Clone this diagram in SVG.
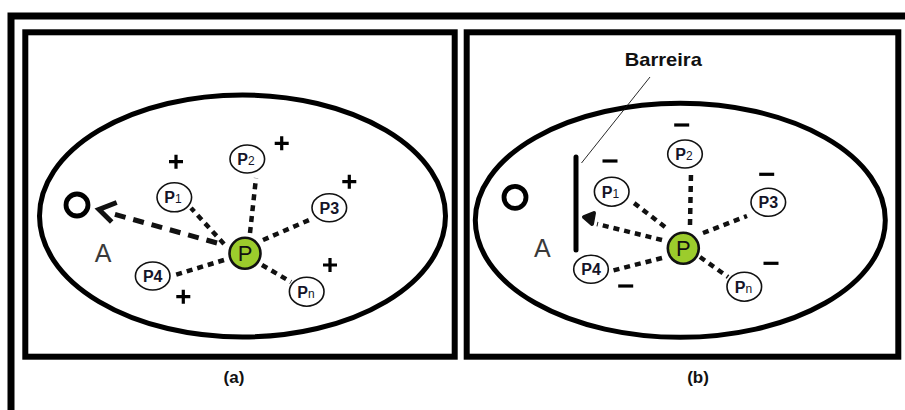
<svg xmlns="http://www.w3.org/2000/svg" width="905" height="410" viewBox="0 0 905 410">
<style>
.frame{fill:none;stroke:#000;stroke-width:7}
.panel{fill:#fff;stroke:#000;stroke-width:6}
.cell{fill:none;stroke:#000;stroke-width:5}
.pc{fill:#fff;stroke:#111;stroke-width:1.6}
.pl{font-family:"Liberation Sans",Arial,sans-serif;font-size:16px;font-weight:bold;fill:#141428;text-anchor:middle}
.sub{font-size:12px;font-weight:normal}
.pg{fill:#9ccc2c;stroke:#111;stroke-width:2.6}
.big{font-family:"Liberation Sans",Arial,sans-serif;font-size:22px;fill:#111;text-anchor:middle}
.A{font-family:"Liberation Sans",Arial,sans-serif;font-size:25px;fill:#3a3a3a;text-anchor:middle}
.cap{font-family:"Liberation Sans",Arial,sans-serif;font-size:17px;font-weight:bold;fill:#111;text-anchor:middle}
.sign{stroke:#000;stroke-width:3.2;fill:none}
.dot{stroke:#111;stroke-width:4.5;stroke-dasharray:6 5;fill:none}
.dash{stroke:#111;stroke-width:5;stroke-dasharray:11 8;fill:none}
.ring{fill:none;stroke:#000;stroke-width:4.8}
</style>
<path class="frame" d="M11 410 V16 H905"/>
<g id="panel-a">
<rect class="panel" x="25.3" y="32.3" width="429.4" height="324.4"/>
<ellipse class="cell" cx="242.5" cy="216" rx="203" ry="121"/>
<circle class="ring" cx="77" cy="205" r="11"/>
<text class="A" x="103" y="262">A</text>
<text class="cap" x="234" y="383">(a)</text>
</g>
<g id="connectors-a">
<line class="dash" x1="217" y1="243" x2="110" y2="213"/>
<path d="M116.7 202.5 L99 209.5 L111.7 222" stroke="#111" stroke-width="5" fill="none"/>
<line class="dot" x1="224" y1="244" x2="191" y2="208"/>
<line class="dot" x1="250" y1="233" x2="256" y2="178"/>
<line class="dot" x1="263" y1="240" x2="309" y2="220"/>
<line class="dot" x1="224" y1="260" x2="172" y2="276"/>
<line class="dot" x1="262" y1="265" x2="291" y2="282"/>
</g>
<g id="a-P"><circle class="pg" cx="245" cy="253.3" r="15.5"/><text class="big" x="245" y="261">P</text></g>
<g id="a-P1"><ellipse class="pc" cx="174.3" cy="197.3" rx="17.3" ry="14.5"/><text class="pl" x="173" y="203">P<tspan class="sub">1</tspan></text></g>
<g id="a-P2"><ellipse class="pc" cx="247.3" cy="159" rx="17.3" ry="14"/><text class="pl" x="246" y="165">P<tspan class="sub">2</tspan></text></g>
<g id="a-P3"><ellipse class="pc" cx="329.3" cy="207.7" rx="17.3" ry="14"/><text class="pl" x="329.3" y="213.5">P3</text></g>
<g id="a-P4"><ellipse class="pc" cx="152.7" cy="276" rx="17.3" ry="14"/><text class="pl" x="152.7" y="282">P4</text></g>
<g id="a-Pn"><ellipse class="pc" cx="306.7" cy="291.7" rx="17.3" ry="14.5"/><text class="pl" x="306" y="297.5">P<tspan class="sub">n</tspan></text></g>
<g id="a-signs">
<path class="sign" d="M169 161.7 H183 M176 154.7 V168.7"/>
<path class="sign" d="M274.7 143.3 H288.7 M281.7 136.3 V150.3"/>
<path class="sign" d="M342.3 181.7 H356.3 M349.3 174.7 V188.7"/>
<path class="sign" d="M323 265 H337 M330 258 V272"/>
<path class="sign" d="M176.3 296.7 H190.3 M183.3 289.7 V303.7"/>
</g>
<g id="panel-b">
<rect class="panel" x="466.7" y="32.3" width="431.6" height="324.4"/>
<ellipse class="cell" cx="680.3" cy="220.3" rx="205" ry="117"/>
<circle class="ring" cx="515" cy="197.3" r="11"/>
<text class="A" x="542.3" y="257">A</text>
<text class="cap" x="698" y="383">(b)</text>
</g>
<g id="barrier">
<line x1="576" y1="157" x2="576" y2="250" stroke="#000" stroke-width="5" stroke-linecap="round"/>
<line x1="581.5" y1="163" x2="650" y2="77" stroke="#111" stroke-width="0.9"/>
<text x="663.3" y="66" font-family="Liberation Sans,Arial,sans-serif" font-size="19" font-weight="bold" fill="#111" text-anchor="middle" textLength="77" lengthAdjust="spacingAndGlyphs">Barreira</text>
</g>
<g id="connectors-b">
<line class="dot" x1="662" y1="240" x2="597" y2="224"/>
<path d="M594 213 L584 217 L592 224 Z" stroke="#111" stroke-width="4" fill="#111" stroke-linejoin="round"/>
<line class="dot" x1="665" y1="227" x2="634" y2="203"/>
<line class="dot" x1="690" y1="225" x2="691" y2="173"/>
<line class="dot" x1="703" y1="233" x2="747" y2="216"/>
<line class="dot" x1="662" y1="258" x2="611" y2="271"/>
<line class="dot" x1="700" y1="257" x2="728" y2="277"/>
</g>
<g id="b-P"><circle class="pg" cx="683.3" cy="248.3" r="15.5"/><text class="big" x="683.3" y="256">P</text></g>
<g id="b-P1"><ellipse class="pc" cx="611.7" cy="191.7" rx="17.3" ry="14.5"/><text class="pl" x="610.5" y="197.5">P<tspan class="sub">1</tspan></text></g>
<g id="b-P2"><ellipse class="pc" cx="685" cy="154" rx="17.3" ry="14"/><text class="pl" x="684" y="160">P<tspan class="sub">2</tspan></text></g>
<g id="b-P3"><ellipse class="pc" cx="768.3" cy="202.3" rx="17.3" ry="14"/><text class="pl" x="768.3" y="208">P3</text></g>
<g id="b-P4"><ellipse class="pc" cx="591" cy="269.3" rx="17.3" ry="14"/><text class="pl" x="591" y="275.3">P4</text></g>
<g id="b-Pn"><ellipse class="pc" cx="744.3" cy="286.7" rx="17.3" ry="14.5"/><text class="pl" x="743.5" y="292.5">P<tspan class="sub">n</tspan></text></g>
<g id="b-signs">
<path class="sign" d="M602.5 161 H617.5"/>
<path class="sign" d="M674.2 125 H689.2"/>
<path class="sign" d="M759.2 174.3 H774.2"/>
<path class="sign" d="M763.5 263.3 H778.5"/>
<path class="sign" d="M618.2 286 H633.2"/>
</g>
</svg>
